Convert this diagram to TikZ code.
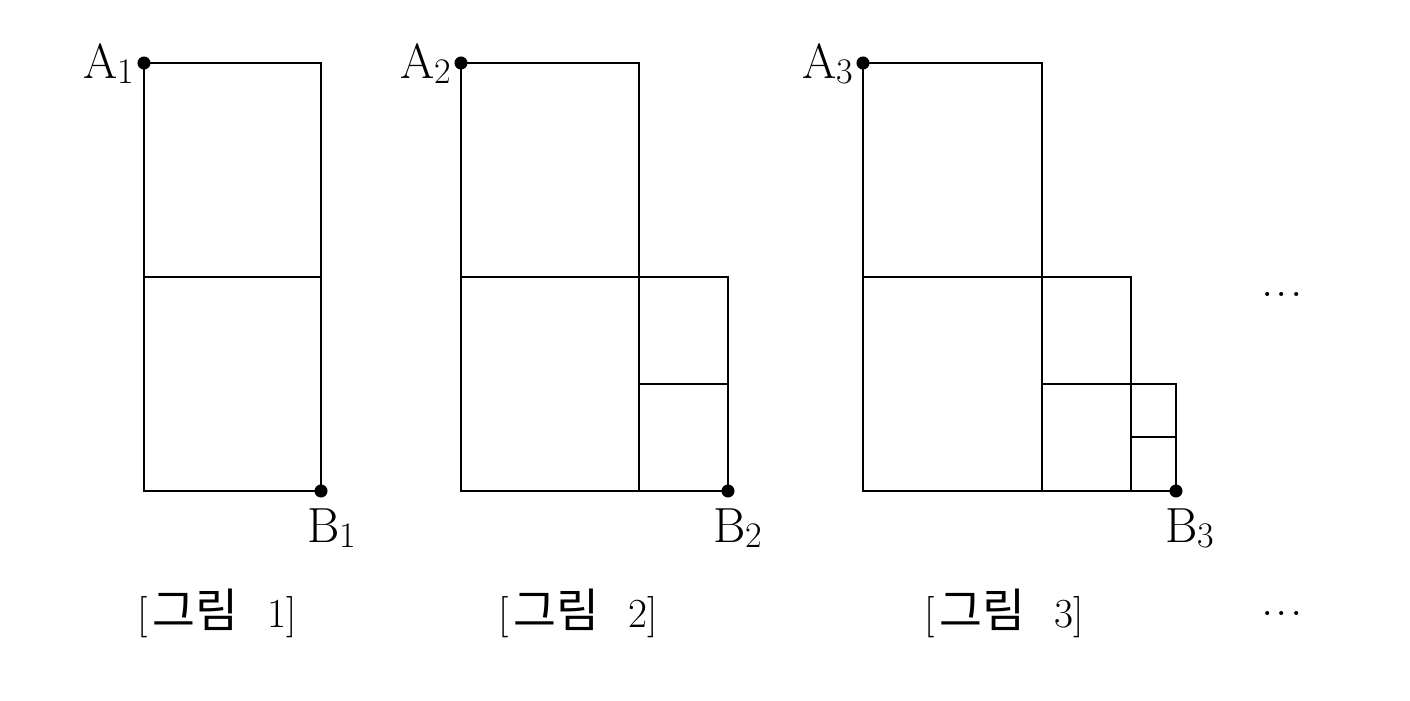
\documentclass[tikz,border=0pt]{standalone}
\usepackage{fontspec}
\newfontfamily\krfont{Noto Sans CJK KR}
\newcommand{\subsc}[1]{\raisebox{-4pt}{\fontsize{27}{30}\selectfont #1}}
\newcommand{\dotsrow}{.\hspace{1.7pt}.\hspace{1.7pt}.}
\newcommand{\kr}[1]{{\krfont\fontsize{35}{38}\selectfont #1}}
\begin{document}
\begin{tikzpicture}[x=0.75pt,y=-0.75pt,
  edge/.style={line width=1.7pt, line cap=rect},
  dotmark/.style={fill=black},
  ptlabel/.style={inner sep=0pt, font=\fontsize{37}{44}\selectfont},
  caption/.style={inner sep=0pt, anchor=base, font=\fontsize{31}{36}\selectfont}]
\useasboundingbox (0,0) rectangle (1410,700);
% figure 1
\coordinate (p1a) at (144,63);
\coordinate (p1m) at (321,277);
\coordinate (p1b) at (321,491);
\coordinate (p1ml) at (144,277);
\draw[edge] (p1a) rectangle (p1b);
\draw[edge] (p1ml) -- (p1m);
\fill[dotmark] (p1a) circle[radius=4.9pt];
\fill[dotmark] (p1b) circle[radius=4.9pt];
\node[ptlabel, anchor=base east] (la1) at (134,78) {A\subsc{1}};
\node[ptlabel, anchor=base west] (lb1) at (307,542) {B\subsc{1}};
\node[caption] (c1) at (217,627) {[\hspace{4pt}\kr{그림}\hspace{0.7em}1]};
% figure 2
\coordinate (p2a) at (461,63);
\coordinate (p2c) at (639,491);
\coordinate (p2ml) at (461,277);
\coordinate (p2mr) at (639,277);
\coordinate (p2s) at (728,277);
\coordinate (p2b) at (728,491);
\coordinate (p2sl) at (639,384);
\coordinate (p2sr) at (728,384);
\draw[edge] (p2a) rectangle (p2c);
\draw[edge] (p2ml) -- (p2mr);
\draw[edge] (p2mr) -- (p2s) -- (p2b) -- (p2c);
\draw[edge] (p2sl) -- (p2sr);
\fill[dotmark] (p2a) circle[radius=4.9pt];
\fill[dotmark] (p2b) circle[radius=4.9pt];
\node[ptlabel, anchor=base east] (la2) at (451,78) {A\subsc{2}};
\node[ptlabel, anchor=base west] (lb2) at (713,542) {B\subsc{2}};
\node[caption] (c2) at (578,627) {[\hspace{4pt}\kr{그림}\hspace{0.7em}2]};
% figure 3
\coordinate (p3a) at (863,63);
\coordinate (p3c) at (1042,491);
\coordinate (p3ml) at (863,277);
\coordinate (p3mr) at (1042,277);
\coordinate (p3s) at (1131,277);
\coordinate (p3sb) at (1131,491);
\coordinate (p3sl) at (1042,384);
\coordinate (p3sr) at (1131,384);
\coordinate (p3t) at (1176,384);
\coordinate (p3b) at (1176,491);
\coordinate (p3tl) at (1131,437);
\coordinate (p3tr) at (1176,437);
\draw[edge] (p3a) rectangle (p3c);
\draw[edge] (p3ml) -- (p3mr);
\draw[edge] (p3mr) -- (p3s) -- (p3sb) -- (p3c);
\draw[edge] (p3sl) -- (p3sr);
\draw[edge] (p3sr) -- (p3t) -- (p3b) -- (p3sb);
\draw[edge] (p3tl) -- (p3tr);
\fill[dotmark] (p3a) circle[radius=4.9pt];
\fill[dotmark] (p3b) circle[radius=4.9pt];
\node[ptlabel, anchor=base east] (la3) at (853,78) {A\subsc{3}};
\node[ptlabel, anchor=base west] (lb3) at (1165,542) {B\subsc{3}};
\node[caption] (c3) at (1004,627) {[\hspace{4pt}\kr{그림}\hspace{0.7em}3]};
% ellipses
\node[ptlabel, anchor=base] (d1) at (1282,296) {\dotsrow};
\node[ptlabel, anchor=base] (d2) at (1282,615) {\dotsrow};
\end{tikzpicture}
\end{document}
